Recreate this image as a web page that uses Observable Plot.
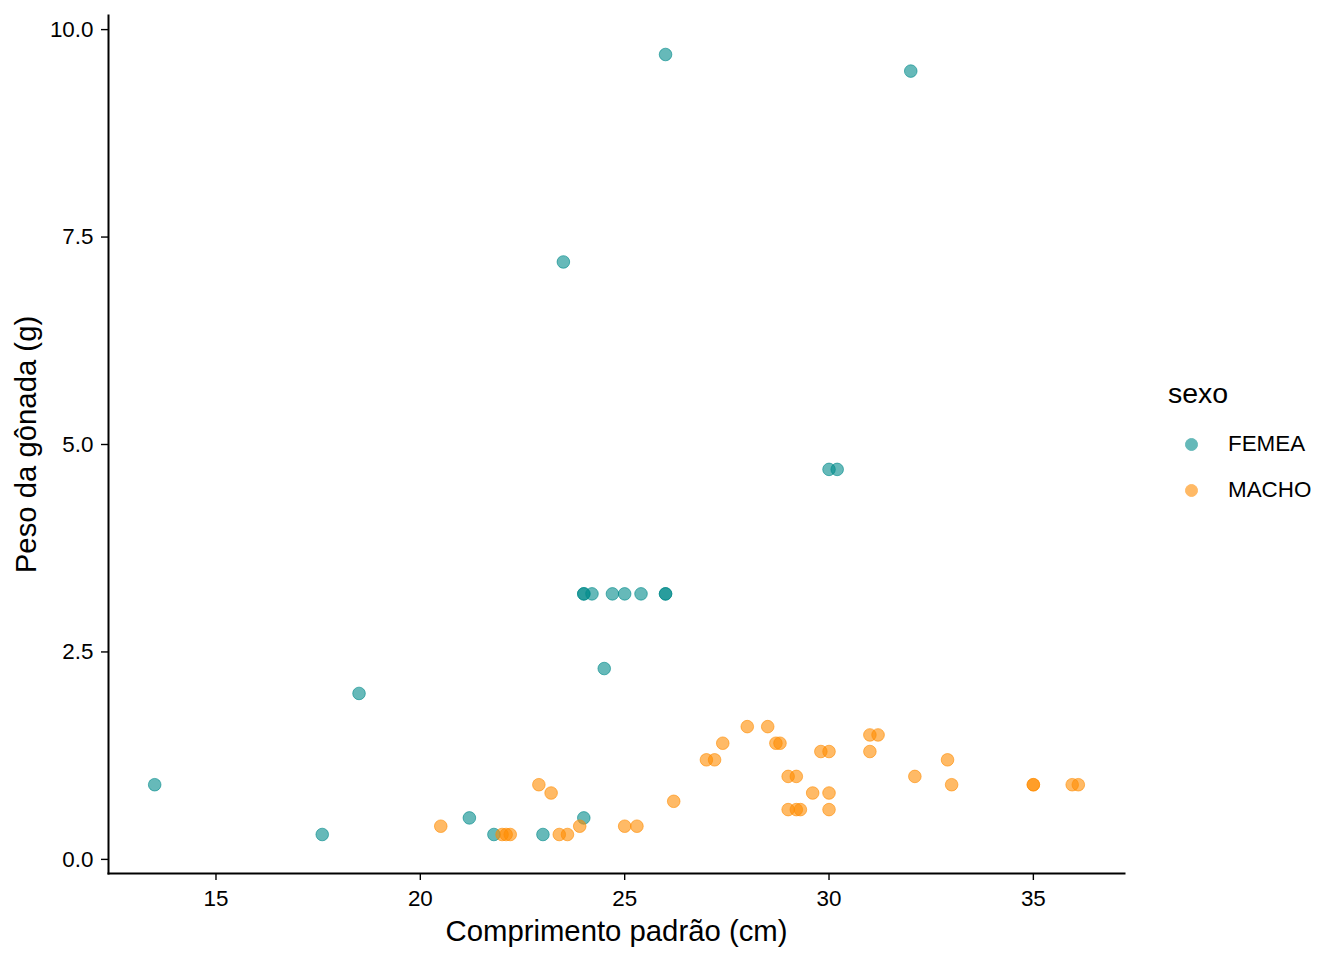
<!DOCTYPE html>
<html>
<head>
<meta charset="utf-8">
<script src="https://cdn.jsdelivr.net/npm/d3@7"></script>
<script src="https://cdn.jsdelivr.net/npm/@observablehq/plot@0.6"></script>
<style>
  html, body { margin: 0; padding: 0; background: #fff; }
  #wrap { position: relative; width: 1344px; height: 960px; font-family: "Liberation Sans", Arial, sans-serif; }
  #legend { position: absolute; left: 1168px; top: 377px; color: #000; }
  .lt { position: absolute; left: 0; top: 0; font-size: 28.5px; white-space: nowrap; }
  .li { position: absolute; left: 0; white-space: nowrap; font-size: 22.4px; }
  .sw { position: absolute; width: 13px; height: 13px; border-radius: 50%; }
</style>
</head>
<body>
<div id="wrap"></div>
<script>
const sexos = ["FEMEA", "MACHO"];
const cores = ["#008B8B", "#FF8C00"];

const femeaX = [13.5, 17.6, 18.5, 21.2, 21.8, 23.0, 24.0, 23.5, 24.0, 24.0, 24.2, 24.7, 25.0, 25.4, 26.0, 26.0, 24.5, 26.0, 32.0, 30.0, 30.2];
const femeaY = [0.9, 0.3, 2.0, 0.5, 0.3, 0.3, 0.5, 7.2, 3.2, 3.2, 3.2, 3.2, 3.2, 3.2, 3.2, 3.2, 2.3, 9.7, 9.5, 4.7, 4.7];

const machoX = [20.5, 22.0, 22.1, 22.2, 22.9, 23.2, 23.4, 23.6, 23.9, 25.0, 25.3, 26.2, 27.0, 27.2, 27.4, 28.0, 28.5, 28.7, 28.8, 29.0, 29.2, 29.6, 30.0, 29.0, 29.2, 29.3, 30.0, 29.8, 30.0, 31.0, 31.2, 31.0, 32.1, 32.9, 33.0, 35.0, 35.0, 35.95, 36.1];
const machoY = [0.4, 0.3, 0.3, 0.3, 0.9, 0.8, 0.3, 0.3, 0.4, 0.4, 0.4, 0.7, 1.2, 1.2, 1.4, 1.6, 1.6, 1.4, 1.4, 1.0, 1.0, 0.8, 0.8, 0.6, 0.6, 0.6, 0.6, 1.3, 1.3, 1.5, 1.5, 1.3, 1.0, 1.2, 0.9, 0.9, 0.9, 0.9, 0.9];

const xTicks = [15, 20, 25, 30, 35];
const yTicks = [0, 2.5, 5, 7.5, 10];

const data = [
  ...femeaX.map((x, i) => ({x, y: femeaY[i], sexo: "FEMEA"})),
  ...machoX.map((x, i) => ({x, y: machoY[i], sexo: "MACHO"}))
];

const xs = data.map(d => d.x), ys = data.map(d => d.y);
const [x0, x1] = d3.extent(xs), [y0, y1] = d3.extent(ys);
const ex = (x1 - x0) * 0.05, ey = (y1 - y0) * 0.05;

const chart = Plot.plot({
  width: 1344,
  height: 960,
  marginLeft: 108,
  marginRight: 220,
  marginTop: 15,
  marginBottom: 87,
  style: { fontFamily: "Liberation Sans, Arial, sans-serif", color: "#000", background: "#fff" },
  x: { domain: [x0 - ex, x1 + ex] },
  y: { domain: [y0 - ey, y1 + ey] },
  color: { domain: sexos, range: cores },
  marks: [
    Plot.axisX({ ticks: xTicks, tickSize: 7, tickPadding: 10, fontSize: 22.4, strokeWidth: 1.4,
      label: "Comprimento padrão (cm)", labelAnchor: "center", labelOffset: 67, labelArrow: "none" }),
    Plot.axisY({ ticks: yTicks, tickSize: 7, tickPadding: 8, fontSize: 22.4, strokeWidth: 1.4,
      tickFormat: d3.format(".1f"),
      label: "Peso da gônada (g)", labelAnchor: "center", labelOffset: 93, labelArrow: "none" }),
    Plot.frame({ anchor: "left", stroke: "#000", strokeWidth: 2 }),
    Plot.frame({ anchor: "bottom", stroke: "#000", strokeWidth: 2 }),
    Plot.dot(data, { x: "x", y: "y", fill: "sexo", stroke: "sexo", r: 6.3, fillOpacity: 0.6, strokeOpacity: 0.6, strokeWidth: 1 })
  ]
});
chart.querySelectorAll('g[aria-label="x-axis label"] text, g[aria-label="y-axis label"] text').forEach(t => t.setAttribute("font-size", "29.3"));

const wrap = document.getElementById("wrap");
wrap.appendChild(chart);

const leg = document.createElement("div");
leg.id = "legend";
let html = `<div class="lt">sexo</div>`;
sexos.forEach((s, i) => {
  const cy = 67 + i * 46;
  html += `<div class="sw" style="left:16.5px;top:${cy - 6.5}px;background:${cores[i]};opacity:0.6;border:1px solid ${cores[i]};box-sizing:border-box"></div>`;
  html += `<div class="li" style="left:60px;top:${cy - 13}px">${s}</div>`;
});
leg.innerHTML = html;
wrap.appendChild(leg);
</script>
</body>
</html>
